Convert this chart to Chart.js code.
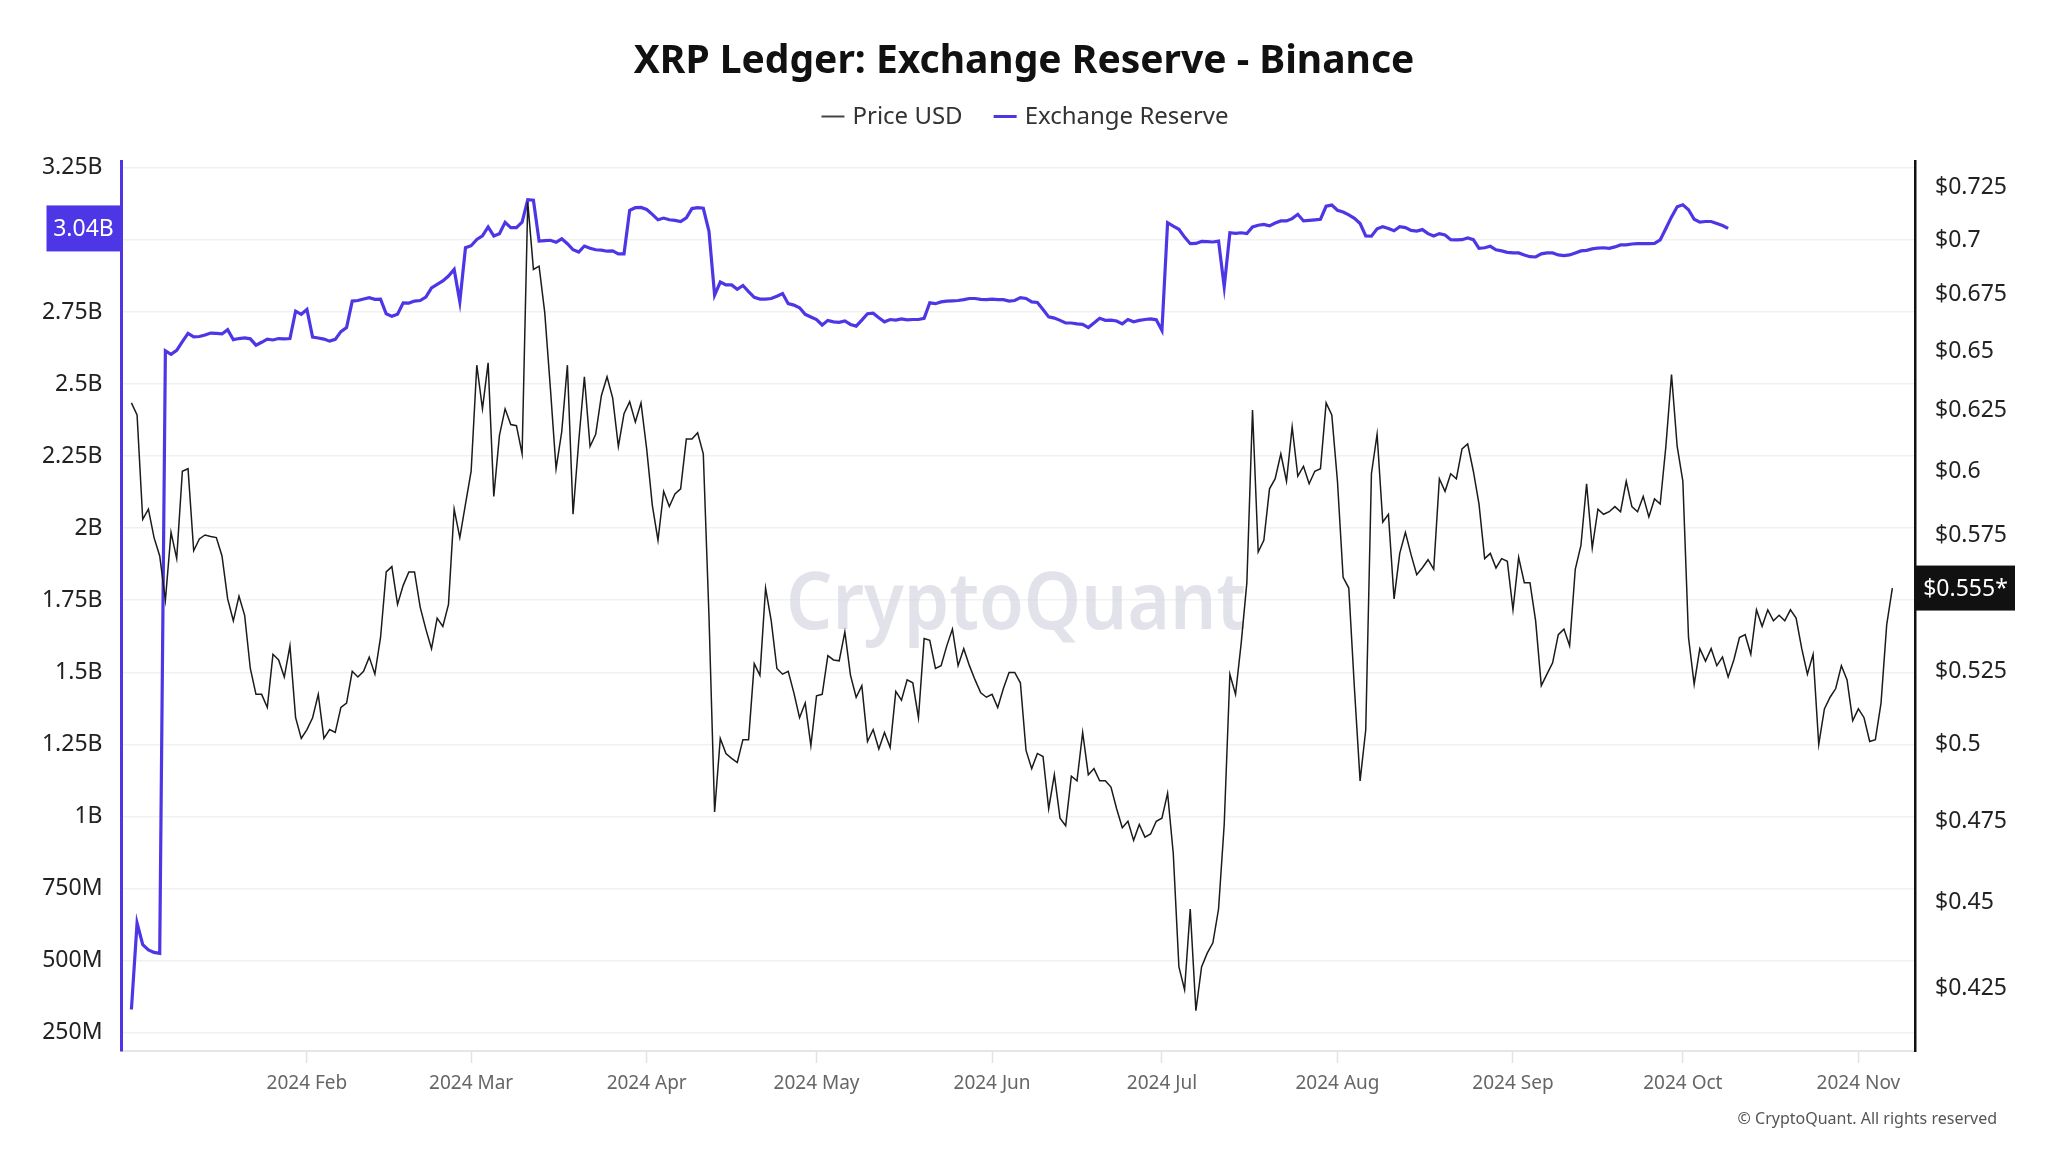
<!DOCTYPE html>
<html><head><meta charset="utf-8">
<script src="https://cdn.jsdelivr.net/npm/chart.js@4.4.1/dist/chart.umd.min.js"></script>
<style>html,body{margin:0;padding:0;background:#fff;}#wrap{width:2048px;height:1152px;position:relative;}</style>
</head><body><div id="wrap"><canvas id="c"></canvas></div>
<script>
const TITLE = 'XRP Ledger: Exchange Reserve - Binance';
const SERIES_NAMES = ['Price USD', 'Exchange Reserve'];
const COPYRIGHT = '\u00A9 CryptoQuant. All rights reserved';
const WATERMARK = 'CryptoQuant';
// daily values starting 2024-01-01 (index = day of year, 0-based)
const priceUSD = [
0.628,0.623,0.581,0.585,0.574,0.567,0.5505,0.576,0.566,0.600,
0.601,0.569,0.5735,0.575,0.5744,0.574,0.567,0.551,0.543,0.552,
0.545,0.526,0.517,0.517,0.5125,0.531,0.529,0.523,0.534,0.509,
0.502,0.505,0.509,0.517,0.502,0.505,0.504,0.5125,0.514,0.525,
0.523,0.525,0.530,0.524,0.537,0.561,0.563,0.549,0.556,0.561,
0.561,0.548,0.540,0.533,0.544,0.541,0.549,0.585,0.574,0.587,
0.600,0.644,0.6255,0.645,0.590,0.6145,0.6255,0.619,0.6185,0.607,
0.718,0.6865,0.688,0.667,0.634,0.601,0.616,0.644,0.583,0.612,
0.639,0.610,0.615,0.631,0.639,0.630,0.610,0.6235,0.6285,0.620,
0.628,0.609,0.5865,0.573,0.592,0.586,0.591,0.593,0.613,0.613,
0.6156,0.607,0.545,0.478,0.502,0.497,0.4954,0.494,0.5016,0.5016,
0.5277,0.5236,0.555,0.543,0.526,0.524,0.525,0.5175,0.509,0.514,
0.4996,0.5165,0.517,0.5305,0.529,0.5287,0.539,0.5236,0.516,0.520,
0.501,0.505,0.4985,0.504,0.499,0.518,0.515,0.522,0.521,0.509,
0.5366,0.536,0.526,0.527,0.534,0.540,0.527,0.533,0.527,0.522,
0.5175,0.516,0.517,0.5125,0.519,0.5246,0.5246,0.521,0.498,0.492,
0.497,0.496,0.479,0.490,0.476,0.4736,0.4895,0.488,0.504,0.490,
0.492,0.488,0.488,0.486,0.479,0.473,0.475,0.469,0.474,0.470,
0.471,0.475,0.476,0.484,0.465,0.431,0.4245,0.448,0.4186,0.431,
0.435,0.438,0.448,0.474,0.524,0.517,0.535,0.557,0.625,0.5685,
0.573,0.593,0.597,0.607,0.596,0.618,0.598,0.602,0.595,0.600,
0.601,0.628,0.623,0.596,0.559,0.555,0.519,0.488,0.505,0.599,
0.615,0.580,0.583,0.551,0.568,0.576,0.5675,0.560,0.5626,0.5656,
0.562,0.597,0.592,0.599,0.597,0.609,0.611,0.600,0.587,0.566,
0.568,0.5625,0.566,0.565,0.547,0.5665,0.557,0.557,0.543,0.520,
0.524,0.528,0.538,0.540,0.534,0.562,0.571,0.595,0.570,0.585,
0.583,0.584,0.586,0.584,0.596,0.586,0.584,0.590,0.582,0.589,
0.587,0.610,0.640,0.610,0.596,0.537,0.5205,0.533,0.5286,0.533,
0.527,0.530,0.523,0.529,0.537,0.538,0.531,0.547,0.541,0.547,
0.543,0.545,0.543,0.547,0.544,0.533,0.524,0.531,0.500,0.512,
0.516,0.519,0.527,0.522,0.508,0.512,0.509,0.501,0.5016,0.514,
0.5415,0.555
];
const reserveB = [
0.33,0.63,0.555,0.537,0.528,0.525,2.615,2.603,2.617,2.647,
2.676,2.664,2.665,2.670,2.677,2.676,2.674,2.689,2.654,2.658,
2.660,2.657,2.635,2.645,2.656,2.653,2.658,2.657,2.658,2.753,
2.742,2.759,2.663,2.660,2.656,2.649,2.655,2.682,2.696,2.788,
2.790,2.795,2.800,2.794,2.795,2.744,2.735,2.742,2.782,2.781,
2.788,2.790,2.802,2.834,2.846,2.858,2.875,2.898,2.786,2.973,
2.980,3.002,3.014,3.045,3.014,3.022,3.061,3.043,3.043,3.062,
3.140,3.138,2.996,2.998,2.999,2.992,3.004,2.987,2.966,2.958,
2.979,2.971,2.966,2.965,2.961,2.962,2.952,2.952,3.103,3.112,
3.113,3.106,3.089,3.070,3.076,3.070,3.068,3.064,3.077,3.109,
3.112,3.110,3.031,2.809,2.854,2.844,2.844,2.829,2.842,2.821,
2.801,2.795,2.795,2.797,2.805,2.814,2.779,2.774,2.765,2.742,
2.733,2.724,2.705,2.721,2.716,2.714,2.719,2.707,2.701,2.722,
2.744,2.746,2.730,2.716,2.724,2.722,2.726,2.723,2.724,2.724,
2.728,2.782,2.779,2.785,2.788,2.789,2.790,2.793,2.797,2.797,
2.794,2.793,2.795,2.793,2.793,2.788,2.790,2.800,2.797,2.785,
2.783,2.759,2.733,2.729,2.721,2.712,2.712,2.709,2.707,2.696,
2.712,2.728,2.721,2.722,2.719,2.709,2.724,2.716,2.721,2.724,
2.726,2.723,2.686,3.060,3.048,3.037,3.010,2.987,2.988,2.995,
2.994,2.993,2.996,2.838,3.025,3.023,3.025,3.022,3.045,3.051,
3.054,3.049,3.059,3.066,3.066,3.074,3.089,3.066,3.068,3.070,
3.072,3.117,3.121,3.103,3.097,3.087,3.075,3.057,3.014,3.013,
3.039,3.046,3.040,3.032,3.046,3.043,3.033,3.031,3.036,3.022,
3.014,3.022,3.017,3.001,3.000,3.001,3.007,3.001,2.971,2.973,
2.978,2.966,2.962,2.957,2.955,2.955,2.948,2.942,2.941,2.952,
2.955,2.955,2.948,2.946,2.948,2.955,2.962,2.964,2.969,2.972,
2.973,2.971,2.976,2.983,2.983,2.986,2.987,2.987,2.987,2.988,
3.000,3.040,3.080,3.115,3.122,3.105,3.072,3.062,3.064,3.064,
3.057,3.050,3.040
];
const monthTickDays = [31, 60, 91, 121, 152, 182, 213, 244, 274, 305];
const monthTickLabels = ['2024 Feb','2024 Mar','2024 Apr','2024 May','2024 Jun','2024 Jul','2024 Aug','2024 Sep','2024 Oct','2024 Nov'];
const reserveTicks = [0.25,0.5,0.75,1,1.25,1.5,1.75,2,2.25,2.5,2.75,3,3.25];
const reserveTickLabels = ['250M','500M','750M','1B','1.25B','1.5B','1.75B','2B','2.25B','2.5B','2.75B','3B','3.25B'];
const priceTicks = [0.425,0.45,0.475,0.5,0.525,0.55,0.575,0.6,0.625,0.65,0.675,0.7,0.725];
const priceTickLabels = ['$0.425','$0.45','$0.475','$0.5','$0.525','$0.55','$0.575','$0.6','$0.625','$0.65','$0.675','$0.7','$0.725'];
const latestReserveLabel = '3.04B';
const latestReserveValue = 3.04;
const latestPriceLabel = '$0.555*';
const latestPriceValue = 0.555;

const PURPLE = '#4d36e6';
const PRICE_COLOR = '#1b1b1b';
const FONT = "'Noto Sans', 'Open Sans', sans-serif";

const decor = {
  id: 'decor',
  beforeDatasetsDraw(chart) {
    const {ctx} = chart;
    ctx.save();
    ctx.font = '600 80px ' + FONT;
    ctx.fillStyle = 'rgba(212,212,224,0.68)';
    ctx.textAlign = 'center';
    ctx.textBaseline = 'alphabetic';
    const w = ctx.measureText(WATERMARK).width;
    ctx.translate(1016, 629);
    ctx.scale(460 / w, 1);
    ctx.fillText(WATERMARK, 0, 0);
    ctx.restore();
  },
  afterDraw(chart) {
    const {ctx, chartArea, scales} = chart;
    ctx.save();
    // title
    ctx.fillStyle = '#111';
    ctx.font = 'bold 39px ' + FONT;
    ctx.textAlign = 'center';
    ctx.textBaseline = 'middle';
    ctx.fillText(TITLE, 1024, 62);
    // legend
    ctx.font = '24px ' + FONT;
    ctx.textAlign = 'left';
    const lineW = 23, gap = 8, itemGap = 31;
    const w1 = ctx.measureText(SERIES_NAMES[0]).width;
    const w2 = ctx.measureText(SERIES_NAMES[1]).width;
    const total = lineW + gap + w1 + itemGap + lineW + gap + w2;
    let x = 1025 - total / 2;
    const ly = 116.5;
    ctx.strokeStyle = '#444'; ctx.lineWidth = 2;
    ctx.beginPath(); ctx.moveTo(x, ly); ctx.lineTo(x + lineW, ly); ctx.stroke();
    ctx.fillStyle = '#333';
    ctx.fillText(SERIES_NAMES[0], x + lineW + gap, ly + 1);
    x += lineW + gap + w1 + itemGap;
    ctx.strokeStyle = PURPLE; ctx.lineWidth = 3;
    ctx.beginPath(); ctx.moveTo(x, ly); ctx.lineTo(x + lineW, ly); ctx.stroke();
    ctx.fillText(SERIES_NAMES[1], x + lineW + gap, ly + 1);
    // latest reserve box
    const ry = scales.yR.getPixelForValue(latestReserveValue);
    ctx.fillStyle = PURPLE;
    ctx.fillRect(chartArea.left - 75, ry - 23, 74, 46);
    ctx.fillStyle = '#fff';
    ctx.font = '23px ' + FONT;
    ctx.textAlign = 'center';
    ctx.fillText(latestReserveLabel, chartArea.left - 38, ry + 1);
    // latest price box
    const py = scales.yP.getPixelForValue(latestPriceValue);
    ctx.fillStyle = '#111';
    ctx.fillRect(chartArea.right + 1, py - 22.5, 99, 45);
    ctx.fillStyle = '#fff';
    ctx.fillText(latestPriceLabel, chartArea.right + 50.5, py + 1);
    // copyright
    ctx.font = '16px ' + FONT;
    ctx.fillStyle = '#555';
    ctx.textAlign = 'right';
    ctx.fillText(COPYRIGHT, 1997, 1119);
    ctx.restore();
  }
};

new Chart(document.getElementById('c'), {
  type: 'line',
  data: {
    datasets: [
      {
        label: SERIES_NAMES[0],
        data: priceUSD.map((v, i) => ({x: i, y: v})),
        yAxisID: 'yP',
        borderColor: PRICE_COLOR,
        borderWidth: 1.5,
        pointRadius: 0,
        tension: 0
      },
      {
        label: SERIES_NAMES[1],
        data: reserveB.map((v, i) => ({x: i, y: v})),
        yAxisID: 'yR',
        borderColor: PURPLE,
        borderWidth: 3.2,
        pointRadius: 0,
        tension: 0
      }
    ]
  },
  options: {
    responsive: true,
    maintainAspectRatio: false,
    animation: false,
    events: [],
    layout: {padding: {top: 161, left: 0, right: 0, bottom: 0}},
    plugins: {legend: {display: false}, title: {display: false}, tooltip: {enabled: false}},
    scales: {
      x: {
        type: 'linear',
        min: -1.75,
        max: 315,
        afterBuildTicks(s) { s.ticks = monthTickDays.map(v => ({value: v})); },
        afterFit(s) { s.height = 101; },
        ticks: {
          autoSkip: false, maxRotation: 0, padding: 9,
          color: '#666', font: {family: FONT, size: 19},
          callback(v) { const i = monthTickDays.indexOf(v); return i >= 0 ? monthTickLabels[i] : ''; }
        },
        grid: {drawOnChartArea: false, drawTicks: true, tickLength: 12, tickColor: '#e3e3e3', tickWidth: 1.5},
        border: {display: true, color: '#e6e6e6', width: 2}
      },
      yR: {
        type: 'linear',
        position: 'left',
        min: 0.186,
        max: 3.274,
        afterBuildTicks(s) { s.ticks = reserveTicks.map(v => ({value: v})); },
        afterFit(s) { s.width = 121.5; },
        ticks: {
          padding: 19, color: '#222', font: {family: FONT, size: 23},
          callback(v) { const i = reserveTicks.indexOf(v); return i >= 0 ? reserveTickLabels[i] : ''; }
        },
        grid: {drawOnChartArea: true, drawTicks: false, color: '#f1f1f1', lineWidth: 1.5},
        border: {display: true, color: PURPLE, width: 3}
      },
      yP: {
        type: 'logarithmic',
        position: 'right',
        min: 0.4075,
        max: 0.738,
        afterBuildTicks(s) { s.ticks = priceTicks.map(v => ({value: v})); },
        afterFit(s) { s.width = 133; },
        ticks: {
          padding: 20, color: '#222', font: {family: FONT, size: 23},
          callback(v) { const i = priceTicks.indexOf(v); return i >= 0 ? priceTickLabels[i] : ''; }
        },
        grid: {drawOnChartArea: false, drawTicks: false},
        border: {display: true, color: '#111', width: 2.5}
      }
    }
  },
  plugins: [decor]
});
</script></body></html>
